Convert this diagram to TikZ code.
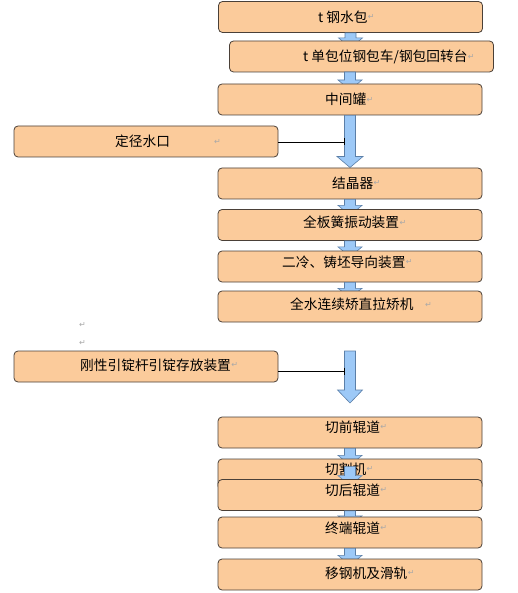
\documentclass[tikz,border=0pt]{standalone}
\usepackage{fontspec}
\setmainfont{Noto Sans CJK SC}
\newfontfamily\symfont{DejaVu Sans}
\usetikzlibrary{calc,arrows.meta}
\definecolor{boxfill}{HTML}{FBCB9B}
\definecolor{boxline}{HTML}{4A4038}
\definecolor{arrfill}{HTML}{9DC9F7}
\definecolor{arrline}{HTML}{5B7FA8}
\definecolor{pmark}{HTML}{A8A8A8}
\tikzset{
  box/.style={draw=boxline, line width=0.8pt, fill=boxfill, rounded corners=4pt,
    minimum width=264pt, minimum height=31pt, inner sep=0pt},
  lbl/.style={anchor=west, inner sep=0pt, font=\fontsize{13.7pt}{14pt}\selectfont},
  pm/.style={anchor=west, inner sep=0pt, text=pmark, font=\symfont\fontsize{8pt}{9pt}\selectfont},
  barr/.style={draw=arrline, line width=0.6pt, fill=arrfill},
  conn/.style={draw=black, line width=0.6pt, -{Bar[width=7pt,line width=1pt]}}
}
% block arrow: #1 top coordinate, #2 tip coordinate, #3 head length, #4 shaft half width, #5 head half width
\newcommand\blockarr[5]{%
  \draw[barr] ($(#1)+(-#4,0)$) -- ($(#2)+(-#4,#3)$) -- ($(#2)+(-#5,#3)$) -- (#2)
    -- ($(#2)+(#5,#3)$) -- ($(#2)+(#4,#3)$) -- ($(#1)+(#4,0)$) -- cycle;}
\begin{document}
\begin{tikzpicture}[x=1pt,y=1pt]
\useasboundingbox (0,0) rectangle (517,-593);
% box 1
\node[box] (b1) at (350.5,-17) {};
\node[lbl] (t1) at (318,-17) {t 钢水包};
\node[pm] (p1) at (t1.east) {↵};
\blockarr{b1.south}{$(b1.south)+(0,-15)$}{10}{5.5}{12}
% box 2
\node[box] (b2) at (361.5,-56.5) {};
\node[lbl] (t2) at (303,-57) {t 单包位钢包车/钢包回转台};
\node[pm] (p2) at (t2.east) {↵};
\coordinate (a2s) at (350,-72);
\blockarr{a2s}{$(a2s)+(0,-18)$}{10}{5.5}{12}
% box 3
\node[box] (b3) at (350,-99.5) {};
\node[lbl] (t3) at (325,-99.5) {中间罐};
\node[pm] (p3) at (t3.east) {↵};
% box 4 and big arrow 1
\node[box] (b4) at (146,-141.5) {};
\node[lbl] (t4) at (115,-141) {定径水口};
\node[pm] (p4) at (214,-142) {↵};
\coordinate (tip1) at (350,-167.5);
\blockarr{b3.south}{tip1}{11}{5.5}{13}
\coordinate (c1) at (344.5,-142);
\draw[conn] (b4.east |- c1) -- (c1);
% box 5
\node[box] (b5) at (350,-183.5) {};
\node[lbl] (t5) at (332,-183) {结晶器};
\node[pm] (p5) at (t5.east) {↵};
\blockarr{b5.south}{$(b5.south)+(0,-16)$}{10}{5.5}{12}
% box 6
\node[box] (b6) at (350,-225) {};
\node[lbl] (t6) at (303,-222.5) {全板簧振动装置};
\node[pm] (p6) at (t6.east) {↵};
\blockarr{b6.south}{$(b6.south)+(0,-16)$}{10}{5.5}{12}
% box 7
\node[box] (b7) at (350,-266.5) {};
\node[lbl] (t7) at (282,-262) {二冷、铸坯导向装置};
\node[pm] (p7) at (t7.east) {↵};
\blockarr{b7.south}{$(b7.south)+(0,-15)$}{9}{5.5}{12}
% box 8
\node[box] (b8) at (350,-306.5) {};
\node[lbl] (t8) at (290,-304) {全水连续矫直拉矫机};
\node[pm] (p8) at (425,-305) {↵};
% stray paragraph marks
\node[pm] (s1) at (79,-325) {↵};
\node[pm] (s2) at (79,-343) {↵};
% box 9 and big arrow 2
\node[box] (b9) at (146,-366.5) {};
\node[lbl] (t9) at (80,-365) {刚性引锭杆引锭存放装置};
\node[pm] (p9) at (t9.east) {↵};
\coordinate (a9s) at (350,-351);
\coordinate (tip2) at (350,-403);
\blockarr{a9s}{tip2}{13}{5.5}{12.5}
\coordinate (c2) at (344.5,-371);
\draw[conn] (b9.east |- c2) -- (c2);
% box 10
\node[box] (b10) at (350,-432.5) {};
\node[lbl] (t10) at (325,-427) {切前辊道};
\node[pm] (p10) at (t10.east) {↵};
\blockarr{b10.south}{$(b10.south)+(0,-17)$}{10}{5.5}{12}
% box 11
\node[box] (b11) at (350,-474.5) {};
\node[lbl] (t11) at (325,-469) {切割机};
\node[pm] (p11) at (t11.east) {↵};
\blockarr{$(b11.north)+(0,-8)$}{$(b11.north)+(0,-27)$}{10}{5.5}{12}
% box 12
\node[box] (b12) at (350,-495) {};
\node[lbl] (t12) at (325,-490) {切后辊道};
\node[pm] (p12) at (t12.east) {↵};
\blockarr{b12.south}{$(b12.south)+(0,-13)$}{8}{5.5}{12}
% box 13
\node[box] (b13) at (350,-532.5) {};
\node[lbl] (t13) at (325,-528) {终端辊道};
\node[pm] (p13) at (t13.east) {↵};
\blockarr{b13.south}{$(b13.south)+(0,-17)$}{10}{5.5}{12}
% box 14
\node[box] (b14) at (350,-574.5) {};
\node[lbl] (t14) at (325,-573) {移钢机及滑轨};
\node[pm] (p14) at (t14.east) {↵};
\end{tikzpicture}
\end{document}
